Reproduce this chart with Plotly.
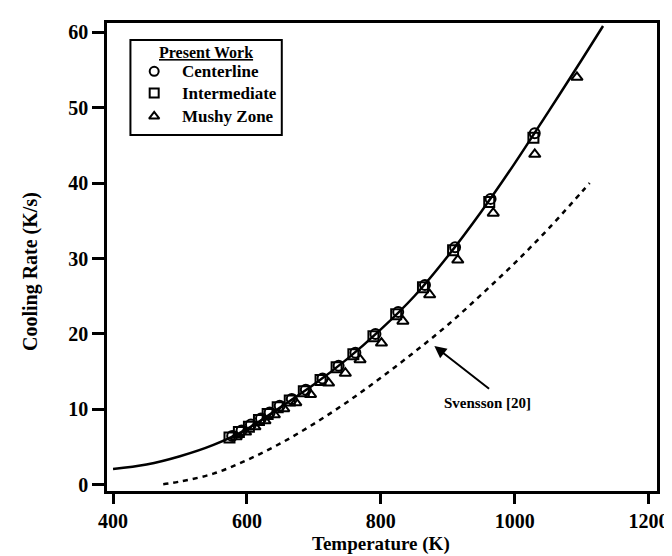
import plotly.graph_objects as go

# ---- data ----
centerline_T = [578, 592, 606, 621, 634, 649, 667, 688, 713, 737, 762, 792, 826, 866, 911, 964, 1030]
centerline_R = [6.5, 7.2, 8.0, 8.8, 9.6, 10.5, 11.4, 12.6, 14.1, 15.8, 17.5, 20.0, 22.9, 26.5, 31.5, 37.9, 46.6]

intermediate_T = [574, 588, 603, 618, 631, 646, 664, 685, 710, 734, 759, 789, 823, 863, 908, 962, 1028]
intermediate_R = [6.3, 7.0, 7.7, 8.6, 9.4, 10.3, 11.2, 12.4, 13.9, 15.6, 17.3, 19.7, 22.6, 26.2, 31.1, 37.5, 46.0]

mushy_T = [584, 598, 612, 627, 641, 655, 673, 695, 722, 747, 769, 801, 833, 873, 915, 968, 1030, 1093]
mushy_R = [6.4, 7.0, 7.7, 8.5, 9.3, 10.1, 10.9, 12.0, 13.5, 14.8, 16.6, 18.8, 21.7, 25.2, 29.8, 36.0, 43.8, 54.0]

fit_T = [400, 450, 500, 550, 600, 650, 700, 750, 800, 850, 900, 950, 1000, 1050, 1100, 1132]
fit_R = [2.1, 2.7, 3.8, 5.3, 7.4, 10.3, 13.3, 16.7, 20.6, 25.0, 30.3, 36.2, 42.6, 49.4, 56.3, 60.8]

svensson_T = [475, 500, 550, 600, 650, 700, 750, 800, 850, 900, 950, 1000, 1050, 1100, 1112]
svensson_R = [0.1, 0.45, 1.5, 3.3, 5.5, 8.1, 11.0, 14.2, 17.6, 21.2, 25.2, 29.4, 33.9, 38.8, 40.0]

legend_names = ["Centerline", "Intermediate", "Mushy Zone"]
legend_symbols = ["circle-open", "square-open", "triangle-up-open"]

x_ticks = [400, 600, 800, 1000, 1200]
y_ticks = [0, 10, 20, 30, 40, 50, 60]

FONT = "Liberation Serif"

# legend layout (paper fractions)
LEG_X0, LEG_X1, LEG_Y0, LEG_Y1 = 0.0426, 0.3178, 0.7607, 0.9637
LEG_SYM_X, LEG_TXT_X = 0.0858, 0.1326
LEG_ROWS = [0.8968, 0.8504, 0.8006]

fig = go.Figure()

fig.add_trace(go.Scatter(x=fit_T, y=fit_R, mode="lines",
                         line=dict(color="black", width=2.5, shape="spline"),
                         showlegend=False, hoverinfo="skip"))
fig.add_trace(go.Scatter(x=svensson_T, y=svensson_R, mode="lines",
                         line=dict(color="black", width=2.5, dash="5px,5px", shape="spline"),
                         showlegend=False, hoverinfo="skip"))

series = [(centerline_T, centerline_R), (intermediate_T, intermediate_R), (mushy_T, mushy_R)]
for (tx, ty), nm, sym in zip(series, legend_names, legend_symbols):
    fig.add_trace(go.Scatter(x=tx, y=ty, mode="markers", name=nm, showlegend=False,
                             marker=dict(symbol=sym, size=10, color="black",
                                         line=dict(width=2, color="black"))))

# legend symbols on an invisible overlay axis spanning the plot area
fig.add_trace(go.Scatter(x=[LEG_SYM_X] * 3, y=LEG_ROWS, mode="markers",
                         xaxis="x2", yaxis="y2", showlegend=False, hoverinfo="skip",
                         marker=dict(symbol=legend_symbols, size=9, color="black",
                                     line=dict(width=2, color="black"))))

annotations = [
    dict(text="<b>Temperature (K)</b>", x=800, y=-0.113, xref="x", yref="paper",
         showarrow=False, xanchor="center", yanchor="middle",
         font=dict(family=FONT, size=19, color="black")),
    dict(text="<b>Cooling Rate (K/s)</b>", x=-0.14, y=0.47, xref="paper", yref="paper",
         showarrow=False, textangle=-90, xanchor="center", yanchor="middle",
         font=dict(family=FONT, size=20, color="black")),
    dict(text="<b>Svensson [20]</b>", x=892, y=10.9, xref="x", yref="y",
         showarrow=False, xanchor="left", yanchor="middle",
         font=dict(family=FONT, size=15, color="black")),
    dict(text="", x=880, y=18.4, ax=964, ay=12.6, xref="x", yref="y",
         axref="x", ayref="y", showarrow=True, arrowhead=2, arrowsize=1.2,
         arrowwidth=2, arrowcolor="black"),
    dict(text="<b><u>Present Work</u></b>", x=(LEG_X0 + LEG_X1) / 2, y=0.9359,
         xref="paper", yref="paper", showarrow=False, xanchor="center", yanchor="middle",
         font=dict(family=FONT, size=16, color="black")),
]
for nm, yy in zip(legend_names, LEG_ROWS):
    annotations.append(dict(text="<b>" + nm + "</b>", x=LEG_TXT_X, y=yy, xref="paper", yref="paper",
                            showarrow=False, xanchor="left", yanchor="middle",
                            font=dict(family=FONT, size=17, color="black")))

fig.update_layout(
    width=672, height=556,
    margin=dict(l=99, r=17, t=15, b=73),
    paper_bgcolor="white", plot_bgcolor="white",
    font=dict(family=FONT, color="black", size=20),
    showlegend=False,
    xaxis=dict(
        range=[391, 1212.6], tickvals=x_ticks, ticktext=["<b>%d</b>" % v for v in x_ticks],
        showgrid=False, zeroline=False, showline=True, linecolor="black", linewidth=2.5,
        mirror=True, ticks="outside", ticklen=10, tickwidth=2.5, tickcolor="black",
        tickfont=dict(family=FONT, size=20, color="black"),
    ),
    yaxis=dict(
        range=[-0.8, 61.2], tickvals=y_ticks, ticktext=["<b>%d</b>" % v for v in y_ticks],
        showgrid=False, zeroline=False, showline=True, linecolor="black", linewidth=2.5,
        mirror=True, ticks="outside", ticklen=12, tickwidth=2.5, tickcolor="black",
        tickfont=dict(family=FONT, size=20, color="black"),
    ),
    xaxis2=dict(range=[0, 1], overlaying="x", visible=False, fixedrange=True),
    yaxis2=dict(range=[0, 1], overlaying="y", visible=False, fixedrange=True),
    shapes=[dict(type="rect", xref="paper", yref="paper",
                 x0=LEG_X0, x1=LEG_X1, y0=LEG_Y0, y1=LEG_Y1,
                 line=dict(color="black", width=2), fillcolor="white", layer="below")],
    annotations=annotations,
)

fig.write_html("out.html")
